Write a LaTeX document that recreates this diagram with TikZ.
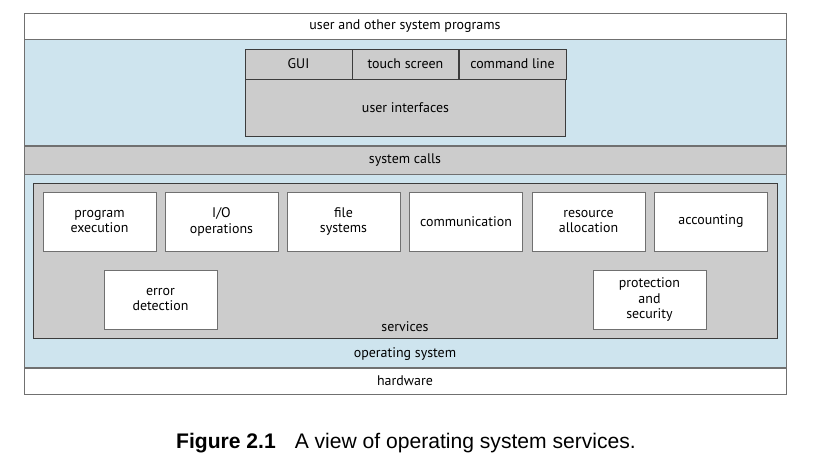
\documentclass[tikz,border=0pt]{standalone}
\usepackage{fontspec}
\setsansfont{PT Sans}
\newfontfamily\capfont{Liberation Sans}
\usetikzlibrary{positioning}
\definecolor{osblue}{RGB}{206,228,238}
\definecolor{svcgray}{RGB}{204,204,204}
\definecolor{rulegray}{RGB}{112,112,112}
\definecolor{edgegray}{RGB}{60,60,60}

\begin{document}
\begin{tikzpicture}[x=0.03cm, y=-0.03cm, node distance=0cm,
    font=\sffamily\fontsize{11.9}{13.6}\selectfont,
    band/.style={draw=rulegray, minimum width=22.86cm, inner sep=0pt},
    uicell/.style={draw=edgegray, fill=svcgray, minimum height=0.9cm, inner sep=0pt},
    svcbox/.style={draw=rulegray, fill=white, minimum width=3.39cm,
                   minimum height=1.77cm, inner sep=0pt, align=center}]
  \useasboundingbox (0,0) rectangle (820,468);

  % Layers, top to bottom
  \node[band, fill=white, minimum height=0.78cm] (progs) at (405,26) {user and other system programs};
  \node[band, fill=osblue, minimum height=3.18cm, below=of progs] (uilayer) {};
  \node[band, fill=svcgray, minimum height=0.84cm, below=of uilayer] (calls) {system calls};
  \node[band, fill=osblue, minimum height=5.79cm, below=of calls] (os) {};
  \node[band, fill=white, minimum height=0.78cm, below=of os] (hw) {hardware};
  \node (oslbl) at ([yshift=0.42cm]os.south) {operating system};

  % User interfaces
  \node[uicell, minimum width=3.21cm] (gui) at (298.5,64) {GUI};
  \node[uicell, minimum width=3.18cm, right=of gui] (touch) {touch screen};
  \node[uicell, minimum width=3.21cm, right=of touch] (cmd) {command line};
  \node[draw=edgegray, fill=svcgray, minimum width=9.6cm, minimum height=1.71cm,
        inner sep=0pt, below=of touch] (ui) {user interfaces};

  % Services
  \node[draw=edgegray, fill=svcgray, minimum width=22.32cm, minimum height=4.65cm]
    (services) at (405,260.5) {};
  \node (svclbl) at ([yshift=0.36cm]services.south) {services};

  \node[svcbox] (exec) at (99.5,221.5) {program\\execution};
  \node[svcbox] (io) at (221.5,221.5) {I/O\\operations};
  \node[svcbox] (fs) at (343.5,221.5) {file\\systems};
  \node[svcbox] (comm) at (466,221.5) {communication};
  \node[svcbox] (alloc) at (588.5,221.5) {resource\\allocation};
  \node[svcbox] (acct) at (711,221.5) {accounting};
  \node[svcbox] (err) at (160.5,299.5) {error\\detection};
  \node[svcbox] (prot) at (649.5,299.5) {protection\\and\\security};

  % Caption
  \node[font=\capfont\fontsize{18}{20}\selectfont] (caption) at (406,443)
    {\textbf{Figure 2.1}\hspace{0.9em}A view of operating system services.};
\end{tikzpicture}
\end{document}
